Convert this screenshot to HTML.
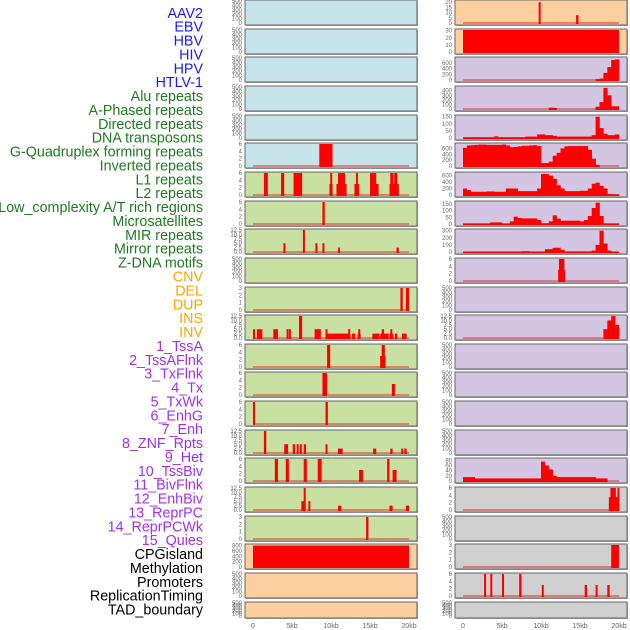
<!DOCTYPE html>
<html><head><meta charset="utf-8"><style>
html,body{margin:0;padding:0;background:#fff;}
svg{display:block;font-family:"Liberation Sans",sans-serif;}
</style></head><body>
<svg id="chart" width="630" height="630" viewBox="0 0 630 630"></svg>
<script>
// ---------- data ----------
const trackLabels = ["AAV2","EBV","HBV","HIV","HPV","HTLV-1","Alu repeats","A-Phased repeats","Directed repeats","DNA transposons","G-Quadruplex forming repeats","Inverted repeats","L1 repeats","L2 repeats","Low_complexity A/T rich regions","Microsatellites","MIR repeats","Mirror repeats","Z-DNA motifs","CNV","DEL","DUP","INS","INV","1_TssA","2_TssAFlnk","3_TxFlnk","4_Tx","5_TxWk","6_EnhG","7_Enh","8_ZNF_Rpts","9_Het","10_TssBiv","11_BivFlnk","12_EnhBiv","13_ReprPC","14_ReprPCWk","15_Quies","CPGisland","Methylation","Promoters","ReplicationTiming","TAD_boundary"];
const labelGroups = ["virus","virus","virus","virus","virus","virus","repeat","repeat","repeat","repeat","repeat","repeat","repeat","repeat","repeat","repeat","repeat","repeat","repeat","sv","sv","sv","sv","sv","state","state","state","state","state","state","state","state","state","state","state","state","state","state","state","other","other","other","other","other"];
const xTickValues = [0,5,10,15,20];
const xTickLabels = ["0","5kb","10kb","15kb","20kb"];
const T500 = [0,100,200,300,400,500];
const T6 = [0,2,4,6];
const T125 = [0,2.5,5,7.5,10,12.5];
const T3 = [0,1,2,3];

// segment data: [startKb, endKb, value]
const barsL5 = [[8.5,10.2,6]];
const barsL6 = [[1.4,1.9,6],[3.6,4.0,6],[5.2,6.3,6],[9.8,10.2,3],[9.9,10.1,6],[10.7,12.0,3],[10.9,11.8,6],[13.0,13.6,3],[13.2,13.4,6],[15.5,16.1,3],[15.0,15.8,6],[17.5,18.7,3],[17.6,18.0,6],[18.1,18.5,6]];
const barsL7 = [[8.9,9.2,6]];
const barsL8 = [[3.9,4.1,5],[6.4,6.6,12.5],[8.0,8.2,5],[8.9,9.1,5],[10.9,11.1,2.5],[18.4,18.7,2.5]];
const barsL10 = [[18.9,19.2,3],[19.6,20.0,3]];
const barsL11 = [[0.0,0.15,5],[0.5,1.2,5],[2.6,3.2,5],[4.3,4.5,5],[4.6,4.8,5],[5.9,6.3,12.5],[7.9,8.5,5],[8.4,8.7,5],[9.3,9.5,5],[9.5,12.5,2.5],[12.2,12.4,5],[12.7,13.1,2.5],[13.4,13.8,2.5],[13.5,13.7,5],[15.3,16.2,2.5],[16.3,17.4,2.5],[16.5,16.8,5],[17.5,18.0,2.5],[17.6,17.8,5],[18.2,18.5,2.5],[19.1,19.7,2.5]];
const barsL12 = [[16.3,17.0,3],[9.5,9.9,6],[16.5,16.9,6]];
const barsL13 = [[8.9,9.5,6],[17.8,18.2,3]];
const barsL14 = [[0.0,0.15,6],[9.3,9.6,6]];
const barsL15 = [[1.4,1.7,12.5],[4.0,4.5,5],[5.1,5.4,5],[5.6,5.8,5],[6.0,6.2,5],[6.5,6.8,5],[9.3,9.5,5],[10.9,11.5,2.5],[15.4,15.8,2.5],[17.6,17.9,2.5],[19.0,19.2,2.5],[19.4,19.7,2.5]];
const barsL16 = [[2.8,3.2,6],[4.2,4.6,6],[6.5,6.9,6],[8.3,8.8,6],[13.6,14.1,3],[17.2,17.5,6],[17.9,18.4,3]];
const barsL17 = [[6.2,6.7,5],[6.5,6.7,12.5],[7.1,7.3,5],[10.9,11.3,2.5],[17.5,17.9,2.5],[19.6,20.0,2.5]];
const barsL18 = [[14.5,14.8,3]];
const barsL19 = [[0,20,800]];
const barsR0 = [[9.7,9.9,20],[14.5,14.8,7.5]];
const barsR1 = [[0,20,31]];
const barsR9 = [[12.2,13.1,3],[12.3,13.0,6]];
const barsR17 = [[18.7,20.0,3.5],[18.9,19.6,6],[19.8,20.0,6]];
const barsR19 = [[19.0,20.0,3]];
const barsR20 = [[2.7,2.9,6],[3.5,3.7,6],[5.0,5.2,6],[7.2,7.5,6],[10.1,10.3,3],[15.6,15.9,3],[17.0,17.2,3],[18.5,18.8,3]];

// binned data: 40 bins of 0.5kb
const binsR2 = [0,0,0,0,0,0,0,0,0,0,0,0,0,0,0,0,0,0,0,0,0,0,0,0,0,0,0,0,0,0,0,0,0,0,30,50,250,450,700,720];
const binsR3 = [0,0,0,0,0,0,0,0,0,0,0,0,0,0,0,0,0,0,0,0,0,0,30,25,0,0,0,0,0,0,0,0,0,0,50,150,460,300,60,60];
const binsR4 = [5,5,5,5,5,5,5,5,12,5,5,5,5,5,5,5,10,10,10,25,25,20,20,15,10,10,10,10,10,10,10,10,10,20,150,70,30,20,20,25];
const binsR5 = [620,700,710,720,730,730,720,720,720,720,730,700,640,650,670,690,690,700,710,680,100,100,150,350,450,600,670,680,680,680,680,680,550,250,40,0,0,0,0,0];
const binsR6 = [200,150,100,100,100,100,110,110,100,100,100,200,200,200,120,120,120,120,120,200,650,650,600,500,300,200,120,120,120,120,130,130,200,350,380,280,200,30,20,20];
const binsR7 = [3,3,3,3,3,3,3,12,12,12,3,3,20,55,45,42,42,42,42,30,5,5,20,65,40,25,25,25,25,25,20,30,60,120,160,60,3,3,3,3];
const binsR8 = [2,2,2,2,2,2,2,2,2,2,2,2,2,2,2,10,10,2,2,2,2,40,40,60,60,30,5,5,5,5,5,5,5,20,100,300,120,20,2,2];
const binsR11 = [0,0,0,0,0,0,0,0,0,0,0,0,0,0,0,0,0,0,0,0,0,0,0,0,0,0,0,0,0,0,0,0,0,0,0,0,5,10,12.5,7.5];
const binsR16 = [15,15,15,10,10,10,10,10,10,10,10,10,10,10,10,10,10,10,10,10,75,60,45,20,15,15,15,15,15,15,15,15,15,15,10,10,10,0,0,0];

// ---------- panel config ----------
const BG = {blue:"#c7e3ea", green:"#c8e1a3", orange:"#fecf9e", purple:"#d4c6e2", grey:"#cfcfcf"};
const leftPanels = [
 {bg:"blue",ticks:T500,ymax:500},{bg:"blue",ticks:T500,ymax:500},{bg:"blue",ticks:T500,ymax:500},{bg:"blue",ticks:T500,ymax:500},{bg:"blue",ticks:T500,ymax:500},
 {bg:"blue",ticks:T6,ymax:6,bars:barsL5},
 {bg:"green",ticks:T6,ymax:6,bars:barsL6},
 {bg:"green",ticks:T6,ymax:6,bars:barsL7},
 {bg:"green",ticks:T125,ymax:12.5,bars:barsL8},
 {bg:"green",ticks:T500,ymax:500},
 {bg:"green",ticks:T3,ymax:3,bars:barsL10},
 {bg:"green",ticks:T125,ymax:12.5,bars:barsL11},
 {bg:"green",ticks:T6,ymax:6,bars:barsL12},
 {bg:"green",ticks:T6,ymax:6,bars:barsL13},
 {bg:"green",ticks:T6,ymax:6,bars:barsL14},
 {bg:"green",ticks:T125,ymax:12.5,bars:barsL15},
 {bg:"green",ticks:T6,ymax:6,bars:barsL16},
 {bg:"green",ticks:T125,ymax:12.5,bars:barsL17},
 {bg:"green",ticks:T3,ymax:3,bars:barsL18},
 {bg:"orange",ticks:[0,200,400,600,800],ymax:820,bars:barsL19},
 {bg:"orange",ticks:T500,ymax:500},
 {bg:"orange",ticks:T500,ymax:500,short:true}
];
const rightPanels = [
 {bg:"orange",ticks:[0,5,10,15,20],ymax:21,bars:barsR0},
 {bg:"orange",ticks:[0,10,20,30],ymax:31,bars:barsR1},
 {bg:"purple",ticks:[0,200,400,600],ymax:770,bins:binsR2},
 {bg:"purple",ticks:[0,100,200,300,400],ymax:480,bins:binsR3},
 {bg:"purple",ticks:[0,50,100,150],ymax:155,bins:binsR4},
 {bg:"purple",ticks:[0,200,400,600],ymax:750,bins:binsR5},
 {bg:"purple",ticks:[0,200,400,600],ymax:680,bins:binsR6},
 {bg:"purple",ticks:[0,50,100,150],ymax:165,bins:binsR7},
 {bg:"purple",ticks:[0,100,200,300],ymax:310,bins:binsR8},
 {bg:"purple",ticks:T6,ymax:6,bars:barsR9},
 {bg:"purple",ticks:T500,ymax:500},
 {bg:"purple",ticks:T125,ymax:12.5,bins:binsR11},
 {bg:"purple",ticks:T500,ymax:500},{bg:"purple",ticks:T500,ymax:500},{bg:"purple",ticks:T500,ymax:500},{bg:"purple",ticks:T500,ymax:500},
 {bg:"purple",ticks:[0,20,40,60,80],ymax:85,bins:binsR16},
 {bg:"grey",ticks:T6,ymax:6,bars:barsR17},
 {bg:"grey",ticks:T500,ymax:500},
 {bg:"grey",ticks:T3,ymax:3,bars:barsR19},
 {bg:"grey",ticks:T6,ymax:6,bars:barsR20},
 {bg:"grey",ticks:T500,ymax:500,short:true}
];
const labelColors = {virus:"#1a1aff", repeat:"#1f7a1f", sv:"#ffa500", state:"#a030ee", other:"#000"};

// ---------- drawing ----------
const NS = "http://www.w3.org/2000/svg";
const svg = document.getElementById("chart");
function mk(tag, attrs, parent){
  const e = document.createElementNS(NS, tag);
  for (const k in attrs) e.setAttribute(k, attrs[k]);
  (parent||svg).appendChild(e);
  return e;
}
trackLabels.forEach((t,i)=>{
  const el = mk("text",{x:203,y:14+i*13.88,"text-anchor":"end","dominant-baseline":"middle","font-size":"14.3",fill:labelColors[labelGroups[i]]});
  el.textContent = t;
  
  
});
function drawColumn(panels, x0, colName){
  const W = 172;
  const xScale = kb => x0 + 8 + kb * 7.8;
  panels.forEach((p,i)=>{
    const top = Math.round(i*28.65);
    const h = p.short ? 16 : 25;
    const g = mk("g",{});
    
    
    mk("rect",{x:x0+1,y:top+1,width:W,height:h,fill:"#aaa"},g);
    mk("rect",{x:x0,y:top,width:W,height:h,fill:BG[p.bg],stroke:"#666","stroke-width":1},g);
    const y0 = top + h - 2, y1 = top + 1;
    const yScale = v => y0 - (v / p.ymax) * (y0 - y1);
    const is125 = p.ticks === T125;
    p.ticks.forEach(tv=>{
      const tx = mk("text",{x:x0-3,y:yScale(tv)+2,"text-anchor":"end","font-size":"6",fill:"#666"},g);
      tx.textContent = is125 ? tv.toFixed(1) : String(tv);
      
      
    });
    if (p.bars || p.bins){
      const bl = mk("rect",{x:xScale(0),y:y0-1,width:xScale(20)-xScale(0),height:2,fill:"rgba(230,0,0,0.4)"},g);
      
      
    }
    if (p.bars){
      p.bars.forEach(b=>{
        const r = mk("rect",{x:xScale(b[0]),y:yScale(b[2]),width:Math.max(2,xScale(b[1])-xScale(b[0])),height:y0-yScale(b[2])+1,fill:"#ff0000"},g);
        
        
      });
    }
    if (p.bins){
      p.bins.forEach((v,k)=>{
        if (v<=0) return;
        const r = mk("rect",{x:xScale(k*0.5),y:yScale(v),width:xScale(0.5)-xScale(0)+0.3,height:y0-yScale(v)+1,fill:"#ff0000"},g);
        
        
      });
    }
  });
  xTickValues.forEach((v,k)=>{
    const t = mk("text",{x:xScale(v),y:628,"text-anchor":"middle","font-size":"7",fill:"#666"});
    t.textContent = xTickLabels[k];
    
    
  });
}
drawColumn(leftPanels, 245, "left");
drawColumn(rightPanels, 455, "right");
</script>
</body></html>
